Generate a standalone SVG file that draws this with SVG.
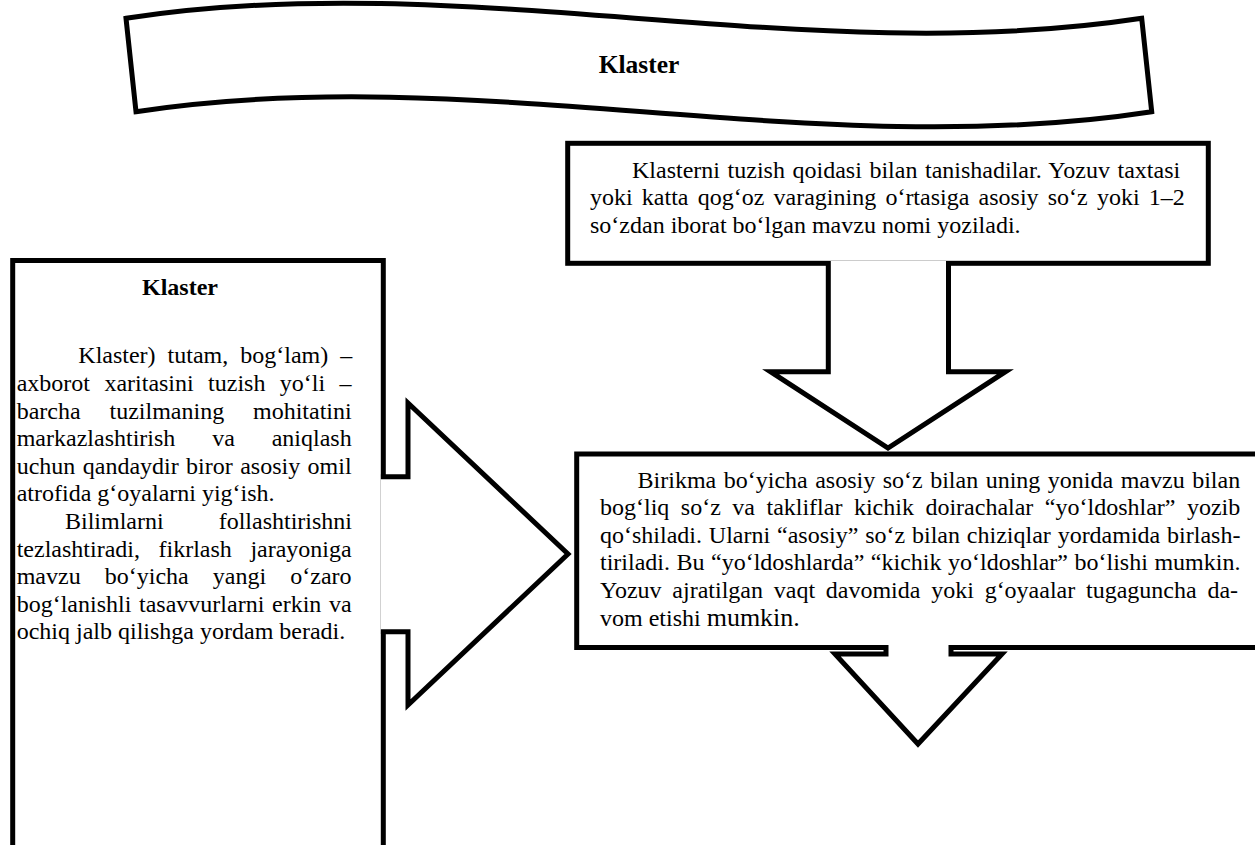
<svg xmlns="http://www.w3.org/2000/svg" width="1255" height="845" viewBox="0 0 1255 845">
<style>
.shape{fill:#fff;stroke:#000;stroke-width:5;stroke-linejoin:miter;stroke-miterlimit:10}
.t{font-family:"Liberation Serif","Times New Roman",serif;font-size:24px;fill:#000}
.b{font-weight:bold}
</style>
<rect width="1255" height="845" fill="#fff"/>
<g id="node-banner">
<path class="shape" d="M126,18.3 C465,-34 803,70 1141.7,18.3 L1151.7,111.7 C813,164 475,60 136,111.7 Z"/>
<text class="t b" x="639" y="72.7" text-anchor="middle" style="font-size:25.5px">Klaster</text>
</g>
<g id="node-left">
<rect class="shape" x="12.7" y="260.5" width="370.6" height="620"/>
<text class="t b" x="180" y="295" text-anchor="middle">Klaster</text>
<text class="t" x="78.3" y="363.3" style="word-spacing:6px">Klaster) tutam, bog‘lam) –</text>
<text class="t" x="16.7" y="390.9" style="word-spacing:8.4px">axborot xaritasini tuzish yo‘li –</text>
<text class="t" x="16.7" y="418.5" style="word-spacing:22.85px">barcha tuzilmaning mohitatini</text>
<text class="t" x="16.7" y="446.1" style="word-spacing:30.85px">markazlashtirish va aniqlash</text>
<text class="t" x="16.7" y="473.7" style="word-spacing:1.4px">uchun qandaydir biror asosiy omil</text>
<text class="t" x="16.7" y="501.3">atrofida g‘oyalarni yig‘ish.</text>
<text class="t" x="65" y="528.9" style="word-spacing:49px">Bilimlarni follashtirishni</text>
<text class="t" x="16.7" y="556.5" style="word-spacing:12.55px">tezlashtiradi, fikrlash jarayoniga</text>
<text class="t" x="16.7" y="584.1" style="word-spacing:18.1px">mavzu bo‘yicha yangi o‘zaro</text>
<text class="t" x="16.7" y="611.7" style="word-spacing:1.68px">bog‘lanishli tasavvurlarni erkin va</text>
<text class="t" x="16.7" y="639.3">ochiq jalb qilishga yordam beradi.</text>
</g>
<g id="node-top">
<rect class="shape" x="567.7" y="143.3" width="640.6" height="120"/>
<text class="t" x="632" y="177.5" style="word-spacing:1.6px">Klasterni tuzish qoidasi bilan tanishadilar. Yozuv taxtasi</text>
<text class="t" x="590" y="205.1" style="word-spacing:3.2px">yoki katta qog‘oz varagining o‘rtasiga asosiy so‘z yoki 1–2</text>
<text class="t" x="590" y="232.7">so‘zdan iborat bo‘lgan mavzu nomi yoziladi.</text>
</g>
<g id="node-mid">
<rect class="shape" x="576.7" y="454" width="690" height="193.5"/>
<text class="t" x="637.6" y="487.5" style="word-spacing:1.5px">Birikma bo‘yicha asosiy so‘z bilan uning yonida mavzu bilan</text>
<text class="t" x="600" y="515.1" style="word-spacing:5.5px">bog‘liq so‘z va takliflar kichik doirachalar “yo‘ldoshlar” yozib</text>
<text class="t" x="600" y="542.7" style="word-spacing:0.85px">qo‘shiladi. Ularni “asosiy” so‘z bilan chiziqlar yordamida birlash-</text>
<text class="t" x="600" y="570.3" style="word-spacing:0.53px">tiriladi. Bu “yo‘ldoshlarda” “kichik yo‘ldoshlar” bo‘lishi mumkin.</text>
<text class="t" x="600" y="597.9" style="word-spacing:4.76px">Yozuv ajratilgan vaqt davomida yoki g‘oyaalar tugaguncha da-</text>
<text class="t" x="600" y="625.5">vom etishi <tspan style="font-size:26px">mumkin.</tspan></text>
</g>
<g id="connectors">
<path class="shape" d="M380.9,476.7 H408 V403 L568,554 L408,705 V631.7 H380.9"/>
<path class="shape" d="M828.3,260.9 V371.7 H770.5 L888,448 L1005.5,371.7 H948.5 V260.9"/>
<path class="shape" d="M886,645.1 V654 H835 L918,744 L1002,654 H951 V645.1"/>
</g>
</svg>
